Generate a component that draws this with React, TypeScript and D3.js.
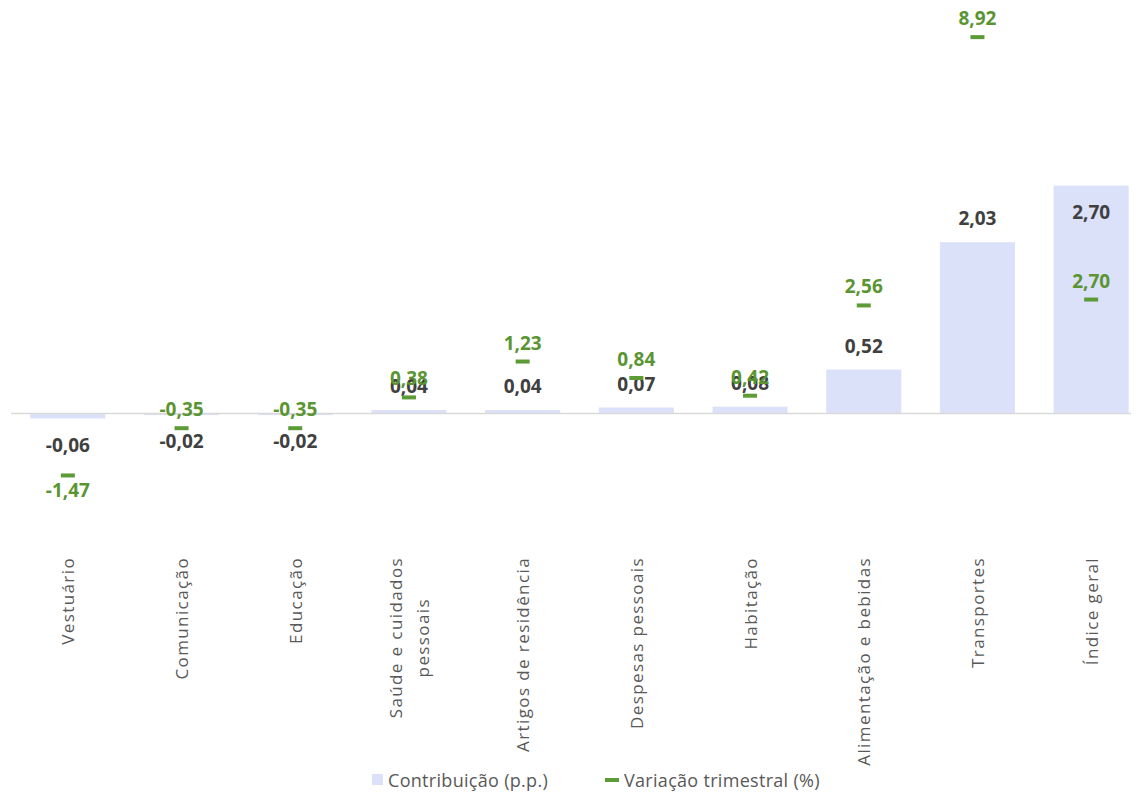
import React from "react";
import * as d3 from "d3";

// Categories and values
const categories = [
  "Vestuário",
  "Comunicação",
  "Educação",
  "Saúde e cuidados|pessoais",
  "Artigos de residência",
  "Despesas pessoais",
  "Habitação",
  "Alimentação e bebidas",
  "Transportes",
  "Índice geral",
];
const contribuicao = [-0.06, -0.02, -0.02, 0.04, 0.04, 0.07, 0.08, 0.52, 2.03, 2.7];
const variacao = [-1.47, -0.35, -0.35, 0.38, 1.23, 0.84, 0.42, 2.56, 8.92, 2.7];
const legendLabels = ["Contribuição (p.p.)", "Variação trimestral (%)"];

const W = 1137;
const H = 794;
const BAR = "#dbe1f9";
const GREEN = "#5c9b35";
const GREEN_TEXT = "#5a9532";
const DARK = "#404040";
const GRAY = "#595959";
const FONT = "'Open Sans', 'Noto Sans', sans-serif";
const CAT_SIZE = 17;
const CAT_SPACING = 1.4;

const fmt = (v: number) => v.toFixed(2).replace(".", ",");

// width of a line of category text, used to center wrapped lines
let ctx: CanvasRenderingContext2D | null = null;
function textWidth(s: string): number {
  if (!ctx) ctx = document.createElement("canvas").getContext("2d");
  if (!ctx) return s.length * CAT_SIZE * 0.55;
  ctx.font = `${CAT_SIZE}px 'Open Sans'`;
  return ctx.measureText(s).width + s.length * CAT_SPACING;
}

export default function App() {
  const x = d3.scaleBand<string>().domain(categories).range([11, 1148]).paddingInner(0.34).paddingOuter(0.17);
  // primary axis (contribution, p.p.) and secondary axis (quarterly change, %)
  const y1 = d3.scaleLinear().domain([-1.5, 4.9]).range([540, 0]);
  const y2 = d3.scaleLinear().domain([-3, 9.8]).range([540, 0]);
  const zero = y1(0);
  const maxC = d3.max(contribuicao) as number;
  const barLabelY = (v: number) => (v === maxC ? y1(v) + 26 : v >= 0 ? y1(v) - 24 : y1(v) + 26);

  return (
    <svg
      width={W}
      height={H}
      style={{ position: "absolute", left: 0, top: 0, background: "#fff" }}
      fontFamily={FONT}
    >
      {/* bars */}
      {categories.map((c, i) => {
        const v = contribuicao[i];
        const yv = y1(v);
        return (
          <rect
            key={"b" + c}
            x={x(c)}
            width={x.bandwidth()}
            y={Math.min(yv, zero)}
            height={Math.abs(yv - zero)}
            fill={BAR}
          />
        );
      })}
      {/* zero line */}
      <line x1={11} x2={1131} y1={zero} y2={zero} stroke="#d9d9d9" strokeWidth={1.5} />

      {/* bar value labels */}
      {categories.map((c, i) => {
        const v = contribuicao[i];
        const cx = (x(c) as number) + x.bandwidth() / 2;
        return (
          <text
            key={"bl" + c}
            x={cx}
            y={barLabelY(v)}
            textAnchor="middle"
            dominantBaseline="central"
            fontSize={19}
            fontWeight={700}
            fill={DARK}
          >
            {fmt(v)}
          </text>
        );
      })}

      {/* markers and their labels */}
      {categories.map((c, i) => {
        const v = variacao[i];
        const cx = (x(c) as number) + x.bandwidth() / 2;
        const my = y2(v);
        const below = v < 0 && my > barLabelY(contribuicao[i]);
        return (
          <g key={"m" + c}>
            <rect x={cx - 7} y={my - 2} width={14} height={4} fill={GREEN} />
            <text
              x={cx}
              y={below ? my + 15 : my - 19}
              textAnchor="middle"
              dominantBaseline="central"
              fontSize={19}
              fontWeight={700}
              fill={GREEN_TEXT}
            >
              {fmt(v)}
            </text>
          </g>
        );
      })}

      {/* category labels, rotated */}
      {categories.map((c) => {
        const cx = (x(c) as number) + x.bandwidth() / 2;
        const lines = c.split("|");
        const lh = 27;
        const maxW = d3.max(lines, textWidth) as number;
        return (
          <g key={"c" + c} transform={`translate(${cx},557) rotate(-90)`}>
            {lines.map((ln, k) => (
              <text
                key={k}
                x={-maxW / 2}
                y={(k - (lines.length - 1) / 2) * lh}
                textAnchor="middle"
                dominantBaseline="central"
                fontSize={CAT_SIZE}
                letterSpacing={CAT_SPACING}
                fill={GRAY}
              >
                {ln}
              </text>
            ))}
          </g>
        );
      })}

      {/* legend */}
      <g fontSize={18} letterSpacing={0.3} fill={GRAY}>
        <rect x={372} y={774} width={11} height={11} fill={BAR} />
        <text x={388} y={780} dominantBaseline="central">
          {legendLabels[0]}
        </text>
        <rect x={605} y={778} width={14} height={4} fill={GREEN} />
        <text x={624} y={780} dominantBaseline="central">
          {legendLabels[1]}
        </text>
      </g>
    </svg>
  );
}
